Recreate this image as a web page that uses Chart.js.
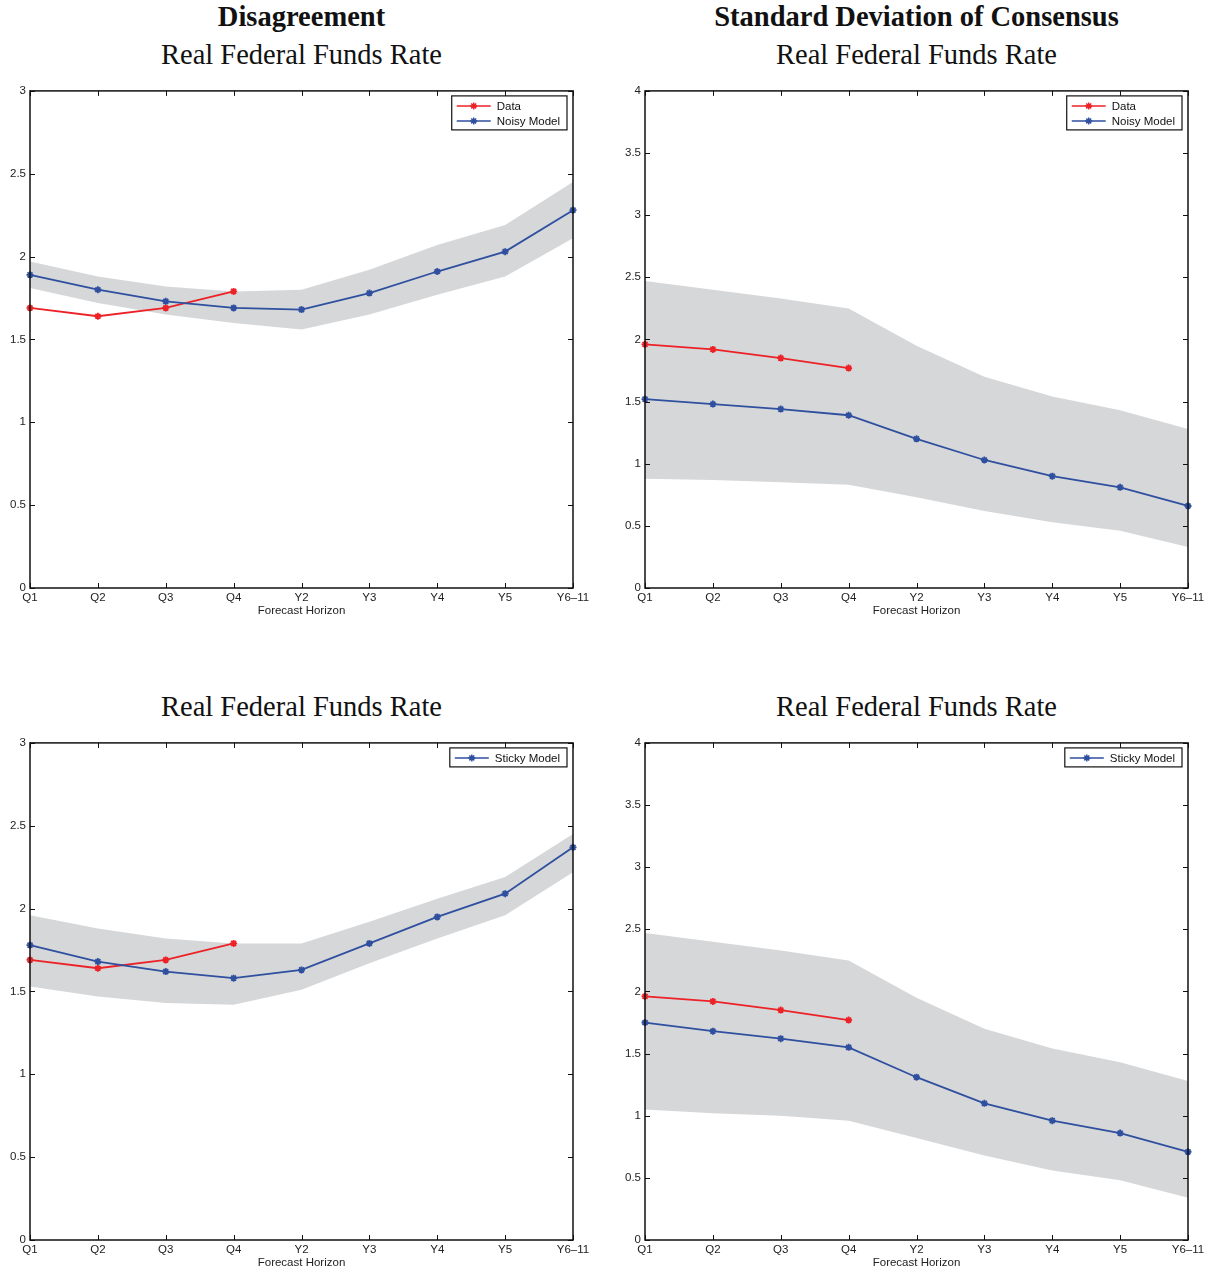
<!DOCTYPE html>
<html>
<head>
<meta charset="utf-8">
<script src="https://cdn.jsdelivr.net/npm/chart.js@4.4.1/dist/chart.umd.min.js"></script>
<style>
  body { margin: 0; background: #fff; width: 1211px; height: 1272px; position: relative; overflow: hidden; }
  .ttl { position: absolute; width: 603px; text-align: center; white-space: nowrap; color: #111;
         font-family: "Liberation Serif", "Times New Roman", serif; font-size: 28.5px; line-height: 30px; }
  .ttl.bold { font-weight: bold; }
  .panel { position: absolute; height: 545px; }
</style>
</head>
<body>
<div class="ttl bold" style="left:0;top:2px">Disagreement</div>
<div class="ttl" style="left:0;top:40px">Real Federal Funds Rate</div>
<div class="ttl bold" style="left:615px;top:2px">Standard Deviation of Consensus</div>
<div class="ttl" style="left:615px;top:40px">Real Federal Funds Rate</div>
<div class="ttl" style="left:0;top:692px">Real Federal Funds Rate</div>
<div class="ttl" style="left:615px;top:692px">Real Federal Funds Rate</div>

<div class="panel" style="left:0;top:80px;width:605px"><canvas id="c-tl"></canvas></div>
<div class="panel" style="left:615px;top:80px;width:596px"><canvas id="c-tr"></canvas></div>
<div class="panel" style="left:0;top:732px;width:605px"><canvas id="c-bl"></canvas></div>
<div class="panel" style="left:615px;top:732px;width:596px"><canvas id="c-br"></canvas></div>

<script>
// 横軸
const horizons = ["Q1", "Q2", "Q3", "Q4", "Y2", "Y3", "Y4", "Y5", "Y6–11"];

// データ（Q1〜Q4のみ）
const dataDisagree = [1.69, 1.64, 1.69, 1.79];
const dataSd = [1.96, 1.92, 1.85, 1.77];

// Noisy Model
const noisyDisagree = [1.89, 1.80, 1.73, 1.69, 1.68, 1.78, 1.91, 2.03, 2.28];
const noisyDisagreeLow = [1.81, 1.72, 1.65, 1.60, 1.56, 1.65, 1.77, 1.88, 2.11];
const noisyDisagreeHigh = [1.97, 1.88, 1.82, 1.79, 1.80, 1.92, 2.07, 2.19, 2.45];
const noisySd = [1.52, 1.48, 1.44, 1.39, 1.20, 1.03, 0.90, 0.81, 0.66];
const noisySdLow = [0.88, 0.87, 0.85, 0.83, 0.73, 0.62, 0.53, 0.46, 0.33];
const noisySdHigh = [2.47, 2.40, 2.33, 2.25, 1.95, 1.70, 1.54, 1.43, 1.28];

// Sticky Model
const stickyDisagree = [1.78, 1.68, 1.62, 1.58, 1.63, 1.79, 1.95, 2.09, 2.37];
const stickyDisagreeLow = [1.53, 1.47, 1.43, 1.42, 1.51, 1.67, 1.82, 1.96, 2.22];
const stickyDisagreeHigh = [1.96, 1.88, 1.82, 1.79, 1.79, 1.92, 2.06, 2.19, 2.45];
const stickySd = [1.75, 1.68, 1.62, 1.55, 1.31, 1.10, 0.96, 0.86, 0.71];
const stickySdLow = [1.05, 1.02, 1.00, 0.96, 0.82, 0.68, 0.56, 0.48, 0.34];
const stickySdHigh = [2.47, 2.40, 2.33, 2.25, 1.95, 1.70, 1.54, 1.43, 1.28];

const RED = "#ec2227";
const BLUE = "#2f4f9f";
const GRAY = "#d6d7d9";
const TICK_FONT = { family: "'Liberation Sans', Arial, sans-serif", size: 11.5 };

// 軸の枠と内向きの目盛り（MATLAB風）
const frameTicks = {
  id: "frameTicks",
  afterDraw(chart) {
    const { ctx, chartArea: a, scales } = chart;
    const len = 5;
    ctx.save();
    ctx.strokeStyle = "#111";
    ctx.lineWidth = 1;
    scales.x.ticks.forEach((t, i) => {
      const px = Math.round(scales.x.getPixelForTick(i)) + 0.5;
      ctx.beginPath();
      ctx.moveTo(px, a.bottom); ctx.lineTo(px, a.bottom - len);
      ctx.moveTo(px, a.top); ctx.lineTo(px, a.top + len);
      ctx.stroke();
    });
    scales.y.ticks.forEach((t, i) => {
      const py = Math.round(scales.y.getPixelForTick(i)) + 0.5;
      ctx.beginPath();
      ctx.moveTo(a.left, py); ctx.lineTo(a.left + len, py);
      ctx.moveTo(a.right, py); ctx.lineTo(a.right - len, py);
      ctx.stroke();
    });
    ctx.lineWidth = 1.5;
    ctx.strokeRect(a.left, a.top, a.right - a.left, a.bottom - a.top);
    ctx.restore();
  },
};

// 凡例（線＋マーカー付きの枠）
const boxLegend = {
  id: "boxLegend",
  afterDraw(chart, args, opts) {
    const { ctx, chartArea: a } = chart;
    const items = opts.items.map((i) => chart.data.datasets[i]);
    ctx.save();
    ctx.font = "11.5px 'Liberation Sans', Arial, sans-serif";
    const textW = Math.max(...items.map((d) => ctx.measureText(d.label).width));
    const w = 45 + textW + 7;
    const h = items.length * 15 + 4;
    const x0 = a.right - 6 - w;
    const y0 = a.top + 5;
    ctx.fillStyle = "#fff";
    ctx.fillRect(x0, y0, w, h);
    ctx.strokeStyle = "#111";
    ctx.lineWidth = 1.2;
    ctx.strokeRect(x0, y0, w, h);
    items.forEach((d, k) => {
      const cy = y0 + 10 + k * 15;
      ctx.strokeStyle = d.borderColor;
      ctx.lineWidth = 1.5;
      ctx.beginPath();
      ctx.moveTo(x0 + 5, cy); ctx.lineTo(x0 + 39, cy);
      ctx.stroke();
      Chart.helpers.drawPoint(ctx, { pointStyle: "star", radius: 3.5, borderWidth: 1.5 }, x0 + 22, cy);
      ctx.fillStyle = "#111";
      ctx.textBaseline = "middle";
      ctx.fillText(d.label, x0 + 45, cy + 0.5);
    });
    ctx.restore();
  },
};

function lineSet(label, values, color, order) {
  return {
    label: label,
    data: values,
    order: order,
    borderColor: color,
    backgroundColor: color,
    borderWidth: 1.8,
    pointStyle: "star",
    pointRadius: 3.5,
    pointBorderWidth: 1.8,
    pointBorderColor: color,
    tension: 0,
    fill: false,
    clip: false,
  };
}

function makePanel(id, yMax, padRight, low, high, data, model, modelLabel, legendItems) {
  new Chart(document.getElementById(id), {
    type: "line",
    data: {
      labels: horizons,
      datasets: [
        { label: "low", data: low, order: 3, borderWidth: 0, pointRadius: 0, fill: false },
        { label: "high", data: high, order: 2, borderWidth: 0, pointRadius: 0, backgroundColor: GRAY, fill: "-1" },
        lineSet("Data", data, RED, 1),
        lineSet(modelLabel, model, BLUE, 0),
      ],
    },
    options: {
      responsive: true,
      maintainAspectRatio: false,
      animation: false,
      layout: { padding: { top: 6, right: padRight, left: 0, bottom: 0 } },
      scales: {
        x: {
          offset: false,
          grid: { display: false, drawTicks: false },
          border: { display: false },
          ticks: { font: TICK_FONT, color: "#222", padding: 3, maxRotation: 0, autoSkip: false },
          title: {
            display: true,
            text: "Forecast Horizon",
            font: TICK_FONT,
            color: "#222",
            padding: { top: 0, bottom: 7 },
          },
          afterFit: (s) => { s.height = 37; },
        },
        y: {
          min: 0,
          max: yMax,
          grid: { display: false, drawTicks: false },
          border: { display: false },
          ticks: {
            stepSize: 0.5,
            font: TICK_FONT,
            color: "#222",
            padding: 4,
            callback: (v) => String(v),
          },
          afterFit: (s) => { s.width = 30; },
        },
      },
      plugins: {
        legend: { display: false },
        tooltip: { enabled: false },
        boxLegend: { items: legendItems },
      },
    },
    plugins: [frameTicks, boxLegend],
  });
}

makePanel("c-tl", 3, 32, noisyDisagreeLow, noisyDisagreeHigh, dataDisagree, noisyDisagree, "Noisy Model", [2, 3]);
makePanel("c-tr", 4, 23, noisySdLow, noisySdHigh, dataSd, noisySd, "Noisy Model", [2, 3]);
makePanel("c-bl", 3, 32, stickyDisagreeLow, stickyDisagreeHigh, dataDisagree, stickyDisagree, "Sticky Model", [3]);
makePanel("c-br", 4, 23, stickySdLow, stickySdHigh, dataSd, stickySd, "Sticky Model", [3]);
</script>
</body>
</html>
